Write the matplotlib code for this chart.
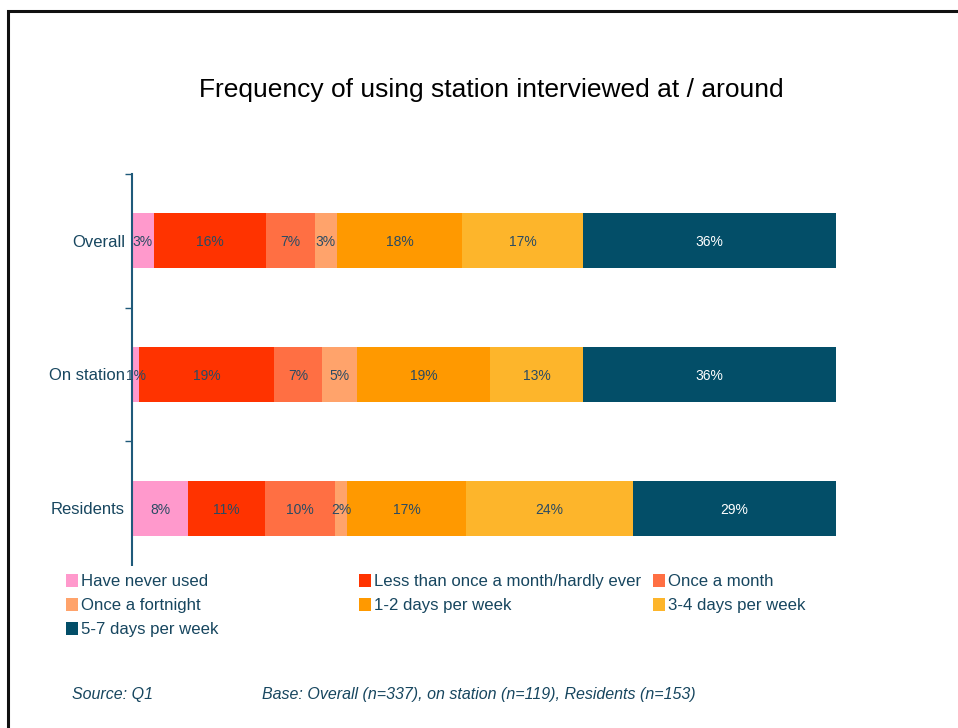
import matplotlib
matplotlib.use("Agg")
import matplotlib.pyplot as plt
from matplotlib.patches import Rectangle
import numpy as np

plt.rcParams['font.family'] = ['Liberation Sans', 'DejaVu Sans']

groups = ["Overall", "On station", "Residents"]
answers = [
    "Have never used",
    "Less than once a month/hardly ever",
    "Once a month",
    "Once a fortnight",
    "1-2 days per week",
    "3-4 days per week",
    "5-7 days per week",
]
colors = ["#FF99CC", "#FF3300", "#FF6F43", "#FFA36B", "#FF9900", "#FDB52B", "#034E68"]

# share of respondents (%) per answer, one list per group
overall = [3.1, 15.9, 7.0, 3.1, 17.8, 17.2, 35.9]
on_station = [1.0, 19.2, 6.8, 5.0, 18.9, 13.2, 35.9]
residents = [8.0, 10.9, 9.9, 1.8, 16.9, 23.6, 28.9]
shares = np.array([overall, on_station, residents])

W, H = 958, 728
TEXT = "#17465F"
LABEL = "#2A4B63"

fig = plt.figure(figsize=(W / 100, H / 100), dpi=100)

def fx(px):
    return px / W

def fy(py):
    return 1 - py / H

# frame round the slide
fig.patches.append(Rectangle((fx(8), fy(740)), fx(1000), fy(11) - fy(740),
                             transform=fig.transFigure, fill=False,
                             edgecolor="#111111", linewidth=2.2, zorder=0))

fig.text(fx(491), fy(90), "Frequency of using station interviewed at / around",
         ha="center", va="center", fontsize=19, color="black")

ax = fig.add_axes([fx(132), fy(575), fx(836) - fx(132), fy(174) - fy(575)])
ypos = np.arange(len(groups))
left = np.zeros(len(groups))
for j, ans in enumerate(answers):
    vals = shares[:, j]
    ax.barh(ypos, vals, left=left, height=0.41, color=colors[j], label=ans, zorder=2)
    for i in range(len(groups)):
        c = "white" if j == len(answers) - 1 else LABEL
        ax.text(left[i] + vals[i] / 2, ypos[i] + 0.01, "%.0f%%" % vals[i],
                ha="center", va="center", fontsize=10, color=c, zorder=3)
    left += vals

ax.set_xlim(0, 100)
ax.set_ylim(2.5, -0.5)
ax.set_yticks([-0.5, 0.5, 1.5, 2.5])
ax.set_yticklabels([])
ax.set_yticks(ypos, minor=True)
ax.set_yticklabels(groups, minor=True, fontsize=12, color=TEXT)
ax.tick_params(axis="y", which="major", length=5, width=1, color="#1F5A7A", direction="out")
ax.tick_params(axis="y", which="minor", length=0, pad=5)
ax.xaxis.set_visible(False)
for s in ["top", "right", "bottom"]:
    ax.spines[s].set_visible(False)
ax.spines["left"].set_color("#1F5A7A")
ax.spines["left"].set_linewidth(1.5)
ax.set_facecolor("none")

# legend laid out in three fixed-width columns, filled row by row
col_x = [66, 359, 653]
row_y = [580, 604, 628]
fig.patches.append(Rectangle((fx(60), fy(640)), fx(800), fy(566) - fy(640),
                             transform=fig.transFigure, facecolor="white",
                             edgecolor="none", zorder=5))
for k, ans in enumerate(answers):
    cx, cy = col_x[k % 3], row_y[k // 3]
    fig.patches.append(Rectangle((fx(cx), fy(cy + 6.5)), fx(12), fy(cy - 6.5) - fy(cy + 6.5),
                                 transform=fig.transFigure, facecolor=colors[k],
                                 edgecolor="none", zorder=6))
    fig.text(fx(cx + 15), fy(cy + 1.5), ans, ha="left", va="center", fontsize=12.1,
             color=TEXT, zorder=7)

fig.text(fx(72), fy(694), "Source: Q1", ha="left", va="center", fontsize=11.5,
         style="italic", color=TEXT)
fig.text(fx(262), fy(694), "Base: Overall (n=337), on station (n=119), Residents (n=153)",
         ha="left", va="center", fontsize=11.5, style="italic", color=TEXT)

fig.savefig("out.png", dpi=100)
